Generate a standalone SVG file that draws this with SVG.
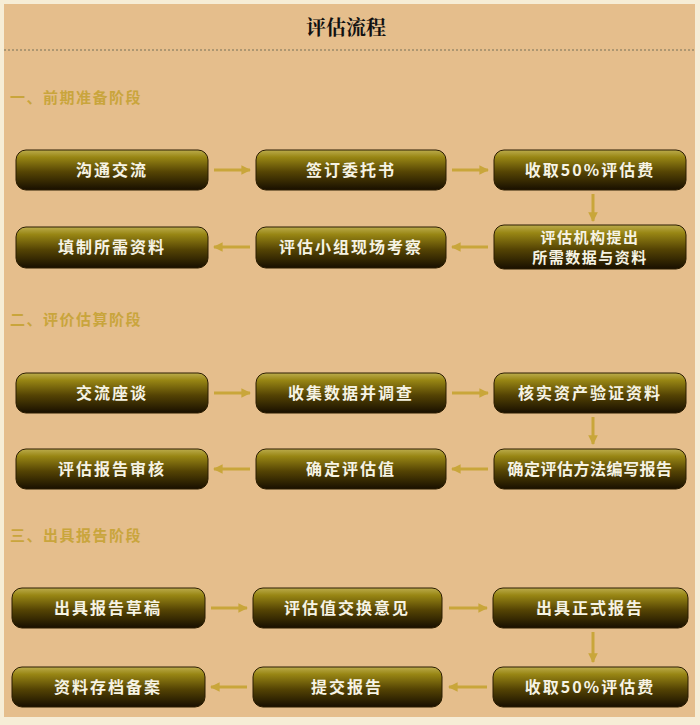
<svg xmlns="http://www.w3.org/2000/svg" width="700" height="725" viewBox="0 0 700 725">
<defs>
<linearGradient id="bx" x1="0" y1="0" x2="0" y2="1">
<stop offset="0" stop-color="#BCAC4C"/>
<stop offset="0.18" stop-color="#988614"/>
<stop offset="0.55" stop-color="#554404"/>
<stop offset="1" stop-color="#180F00"/>
</linearGradient>
<marker id="ah" viewBox="0 0 10 10" refX="9" refY="5" markerWidth="3.2" markerHeight="3.2" orient="auto" markerUnits="strokeWidth">
<path d="M0,0 L10,5 L0,10 z" fill="#C9A63A"/>
</marker>
<style>
.box{fill:url(#bx);stroke:#2a1c00;stroke-width:1}
.t{font-family:"Noto Sans CJK SC","Liberation Sans",sans-serif;font-size:16px;font-weight:bold;fill:#F6F3E4;text-anchor:middle;letter-spacing:2px}
.t2{font-family:"Noto Sans CJK SC","Liberation Sans",sans-serif;font-size:15px;font-weight:bold;fill:#F6F3E4;text-anchor:middle;letter-spacing:1.5px}
.h{font-family:"Noto Sans CJK SC","Liberation Sans",sans-serif;font-size:15px;font-weight:bold;fill:#C9A53C;letter-spacing:1.5px}
.c{stroke:#C9A63A;stroke-width:3;fill:none;marker-end:url(#ah)}
</style>
</defs>
<rect x="0" y="0" width="700" height="725" fill="#F6EDD6"/>
<rect x="4" y="4" width="691" height="713" fill="#E5BE8C"/>
<text x="346" y="35" font-family="'Noto Serif CJK SC','Noto Sans CJK SC','Liberation Serif',serif" font-size="20" font-weight="bold" fill="#111" text-anchor="middle">评估流程</text>
<line x1="4" y1="50" x2="695" y2="50" stroke="#9A8A6A" stroke-width="1.5" stroke-dasharray="2,2"/>
<text class="h" x="10" y="103">一、前期准备阶段</text>
<text class="h" x="10" y="325">二、评价估算阶段</text>
<text class="h" x="10" y="541">三、出具报告阶段</text>

<g id="n1"><rect class="box" x="16" y="150" width="192" height="40" rx="10"/><text class="t" x="112" y="176">沟通交流</text></g>
<g id="n2"><rect class="box" x="256" y="150" width="190" height="40" rx="10"/><text class="t" x="351" y="176">签订委托书</text></g>
<g id="n3"><rect class="box" x="494" y="150" width="192" height="40" rx="10"/><text class="t" x="590" y="176">收取50%评估费</text></g>
<g id="n4"><rect class="box" x="494" y="225" width="192" height="44" rx="10"/><text class="t2" x="590" y="243">评估机构提出</text><text class="t2" x="590" y="263">所需数据与资料</text></g>
<g id="n5"><rect class="box" x="256" y="227" width="190" height="41" rx="10"/><text class="t" x="351" y="253">评估小组现场考察</text></g>
<g id="n6"><rect class="box" x="16" y="227" width="192" height="41" rx="10"/><text class="t" x="112" y="253">填制所需资料</text></g>

<g id="n7"><rect class="box" x="16" y="373" width="192" height="40" rx="10"/><text class="t" x="112" y="399">交流座谈</text></g>
<g id="n8"><rect class="box" x="256" y="373" width="190" height="40" rx="10"/><text class="t" x="351" y="399">收集数据并调查</text></g>
<g id="n9"><rect class="box" x="494" y="373" width="192" height="40" rx="10"/><text class="t" x="590" y="399">核实资产验证资料</text></g>
<g id="n10"><rect class="box" x="494" y="449" width="192" height="40" rx="10"/><text class="t" x="590" y="475" style="letter-spacing:0.5px">确定评估方法编写报告</text></g>
<g id="n11"><rect class="box" x="256" y="449" width="190" height="40" rx="10"/><text class="t" x="351" y="475">确定评估值</text></g>
<g id="n12"><rect class="box" x="16" y="449" width="192" height="40" rx="10"/><text class="t" x="112" y="475">评估报告审核</text></g>

<g id="n13"><rect class="box" x="12" y="588" width="193" height="40" rx="10"/><text class="t" x="108" y="614">出具报告草稿</text></g>
<g id="n14"><rect class="box" x="253" y="588" width="189" height="40" rx="10"/><text class="t" x="347" y="614">评估值交换意见</text></g>
<g id="n15"><rect class="box" x="493" y="588" width="195" height="40" rx="10"/><text class="t" x="590" y="614">出具正式报告</text></g>
<g id="n16"><rect class="box" x="493" y="667" width="195" height="40" rx="10"/><text class="t" x="590" y="693">收取50%评估费</text></g>
<g id="n17"><rect class="box" x="253" y="667" width="189" height="40" rx="10"/><text class="t" x="347" y="693">提交报告</text></g>
<g id="n18"><rect class="box" x="12" y="667" width="193" height="40" rx="10"/><text class="t" x="108" y="693">资料存档备案</text></g>

<g id="connectors">
<line class="c" x1="214" y1="170" x2="250" y2="170"/>
<line class="c" x1="452" y1="170" x2="488" y2="170"/>
<line class="c" x1="593" y1="194" x2="593" y2="221"/>
<line class="c" x1="488" y1="247" x2="452" y2="247"/>
<line class="c" x1="250" y1="247" x2="214" y2="247"/>

<line class="c" x1="214" y1="393" x2="250" y2="393"/>
<line class="c" x1="452" y1="393" x2="488" y2="393"/>
<line class="c" x1="593" y1="417" x2="593" y2="444"/>
<line class="c" x1="488" y1="469" x2="452" y2="469"/>
<line class="c" x1="250" y1="469" x2="214" y2="469"/>

<line class="c" x1="211" y1="608" x2="247" y2="608"/>
<line class="c" x1="449" y1="608" x2="487" y2="608"/>
<line class="c" x1="593" y1="632" x2="593" y2="662"/>
<line class="c" x1="487" y1="687" x2="449" y2="687"/>
<line class="c" x1="247" y1="687" x2="211" y2="687"/>
</g>
</svg>
